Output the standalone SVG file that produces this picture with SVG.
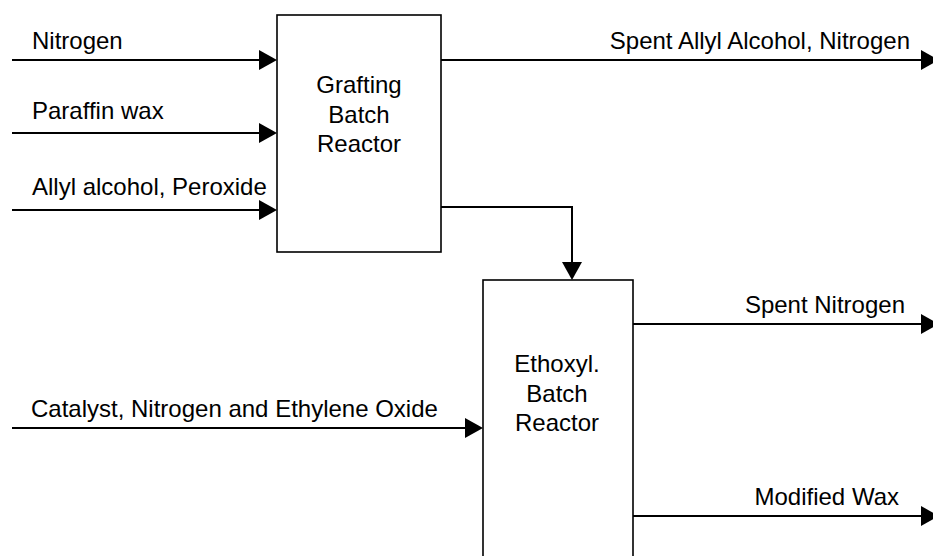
<svg xmlns="http://www.w3.org/2000/svg" width="933" height="556" viewBox="0 0 933 556">
<style>
text{font-family:"Liberation Sans",Arial,sans-serif;font-size:24px;fill:#000}
.c{text-anchor:middle}
.e{text-anchor:end}
.box{fill:#fff;stroke:#000;stroke-width:1.6}
.ln{fill:none;stroke:#000;stroke-width:2}
</style>
<defs>
<marker id="ah" markerUnits="userSpaceOnUse" viewBox="0 0 18 20" markerWidth="18" markerHeight="20" refX="0" refY="10" orient="auto">
<path d="M0,0 L18,10 L0,20 z" fill="#000"/>
</marker>
</defs>
<rect width="933" height="556" fill="#fff"/>
<g id="connectors">
<line class="ln" x1="12" y1="60" x2="259" y2="60" marker-end="url(#ah)"/>
<line class="ln" x1="12" y1="133" x2="259" y2="133" marker-end="url(#ah)"/>
<line class="ln" x1="12" y1="210" x2="259" y2="210" marker-end="url(#ah)"/>
<line class="ln" x1="441" y1="60" x2="921" y2="60" marker-end="url(#ah)"/>
<polyline class="ln" points="441,207 572,207 572,262" marker-end="url(#ah)"/>
<line class="ln" x1="12" y1="428" x2="465" y2="428" marker-end="url(#ah)"/>
<line class="ln" x1="633" y1="324" x2="921" y2="324" marker-end="url(#ah)"/>
<line class="ln" x1="633" y1="516" x2="921" y2="516" marker-end="url(#ah)"/>
<text x="32" y="49">Nitrogen</text>
<text x="32" y="119">Paraffin wax</text>
<text x="32" y="195">Allyl alcohol, Peroxide</text>
<text class="e" x="910" y="49">Spent Allyl Alcohol, Nitrogen</text>
<text x="31" y="417">Catalyst, Nitrogen and Ethylene Oxide</text>
<text class="e" x="905" y="313">Spent Nitrogen</text>
<text class="e" x="899" y="505">Modified Wax</text>
</g>
<g id="grafting">
<rect class="box" x="277" y="15" width="164" height="237"/>
<text class="c" x="359" y="93">Grafting</text>
<text class="c" x="359" y="123">Batch</text>
<text class="c" x="359" y="152">Reactor</text>
</g>
<g id="ethoxyl">
<rect class="box" x="483" y="280" width="150" height="290"/>
<text class="c" x="557" y="372">Ethoxyl.</text>
<text class="c" x="557" y="402">Batch</text>
<text class="c" x="557" y="431">Reactor</text>
</g>
</svg>
